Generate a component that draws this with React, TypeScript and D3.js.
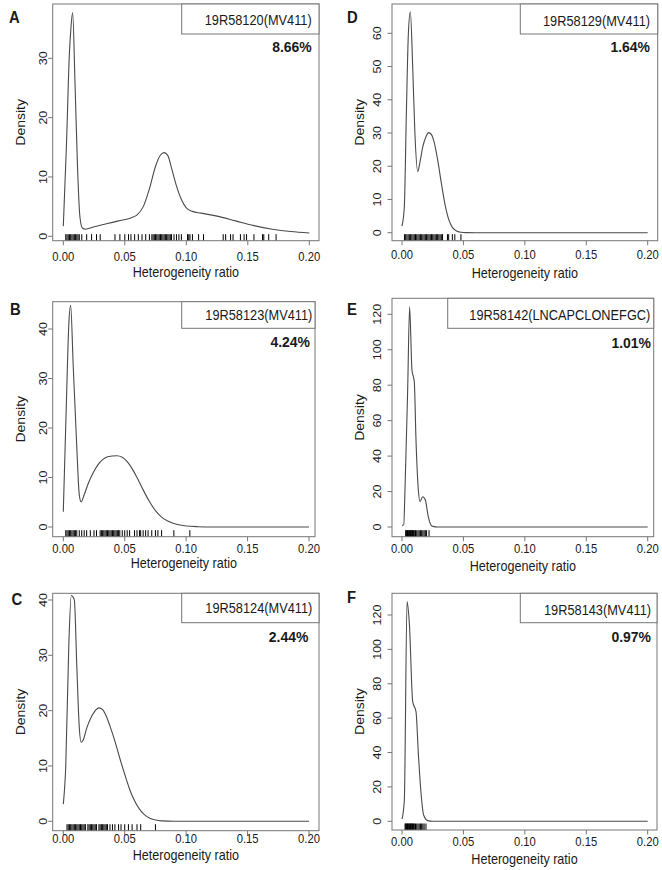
import React from "react";
import * as d3 from "d3";

// ---------- DATA ----------
const xTicks = [0, 0.05, 0.1, 0.15, 0.2];
const xTickLabels = ["0.00", "0.05", "0.10", "0.15", "0.20"];

const panelLetters = ["A", "B", "C", "D", "E", "F"];
const sampleNames = [
  "19R58120(MV411)",
  "19R58123(MV411)",
  "19R58124(MV411)",
  "19R58129(MV411)",
  "19R58142(LNCAPCLONEFGC)",
  "19R58143(MV411)",
];
const percents = ["8.66%", "4.24%", "2.44%", "1.64%", "1.01%", "0.97%"];

const yTicksA = [0, 10, 20, 30];
const yTicksB = [0, 10, 20, 30, 40];
const yTicksC = [0, 10, 20, 30, 40];
const yTicksD = [0, 10, 20, 30, 40, 50, 60];
const yTicksE = [0, 20, 40, 60, 80, 100, 120];
const yTicksF = [0, 20, 40, 60, 80, 100, 120];

// density curves [heterogeneity ratio, density]
const densityA: [number, number][] = [
  [0, 1.7], [0.0025, 15], [0.005, 31], [0.006, 34.5], [0.0076, 37.7], [0.0095, 26],
  [0.0115, 12], [0.0135, 3.3], [0.0155, 1.4], [0.018, 1.2], [0.025, 1.6], [0.035, 2.1],
  [0.045, 2.6], [0.055, 3.1], [0.06, 3.6], [0.065, 5.0], [0.07, 8.0], [0.075, 11.8],
  [0.079, 13.7], [0.082, 14.1], [0.085, 13.6], [0.088, 11.5], [0.092, 8.5], [0.096, 6.2],
  [0.1, 4.8], [0.105, 4.2], [0.112, 3.9], [0.125, 3.4], [0.14, 2.6], [0.155, 1.8],
  [0.17, 1.2], [0.185, 0.8], [0.2, 0.55],
];
const densityB: [number, number][] = [
  [0, 3.1], [0.0025, 25], [0.0046, 41.5], [0.006, 44.8], [0.008, 33], [0.011, 16],
  [0.013, 6.5], [0.0145, 5.1], [0.017, 6.5], [0.02, 8.6], [0.024, 10.8], [0.028, 12.5],
  [0.032, 13.6], [0.036, 14.2], [0.0435, 14.4], [0.048, 14.1], [0.052, 13.2], [0.056, 11.8],
  [0.06, 10.0], [0.065, 7.5], [0.07, 5.2], [0.075, 3.3], [0.08, 2.0], [0.085, 1.2],
  [0.09, 0.7], [0.095, 0.4], [0.1, 0.2], [0.11, 0.06], [0.12, 0.01], [0.2, 0],
];
const densityC: [number, number][] = [
  [0, 3.1], [0.002, 10], [0.0045, 32], [0.0065, 40.8], [0.008, 40.5], [0.009, 40.0],
  [0.011, 28], [0.013, 17], [0.0145, 14.3], [0.016, 14.6], [0.019, 16.8], [0.022, 18.5],
  [0.025, 19.7], [0.029, 20.5], [0.032, 20.2], [0.035, 19.0], [0.038, 17.2], [0.042, 14.5],
  [0.046, 11.4], [0.05, 8.5], [0.054, 5.8], [0.058, 3.7], [0.062, 2.2], [0.066, 1.2],
  [0.07, 0.6], [0.075, 0.25], [0.08, 0.08], [0.09, 0.01], [0.2, 0],
];
const densityD: [number, number][] = [
  [0, 2.0], [0.0019, 7.8], [0.0035, 35], [0.0052, 60], [0.0068, 66.5], [0.0087, 50],
  [0.0105, 30], [0.0128, 18.4], [0.0145, 21], [0.017, 26], [0.0195, 28.9], [0.0217, 30.1],
  [0.024, 29.5], [0.026, 27.5], [0.029, 22], [0.032, 15], [0.035, 8.5], [0.038, 4.0],
  [0.041, 1.6], [0.044, 0.6], [0.048, 0.15], [0.052, 0.03], [0.06, 0], [0.2, 0],
];
const densityE: [number, number][] = [
  [0, 0.9], [0.0014, 1.2], [0.0024, 20], [0.0046, 77], [0.0062, 124.3], [0.0081, 88.6],
  [0.01, 82], [0.0114, 49], [0.0133, 20.9], [0.0147, 14.3], [0.0168, 17.1], [0.019, 15.2],
  [0.0214, 5.8], [0.0236, 1.1], [0.026, 0.2], [0.029, 0], [0.2, 0],
];
const densityF: [number, number][] = [
  [0, 1.2], [0.0019, 12.4], [0.0041, 127.8], [0.006, 115], [0.0087, 69.6], [0.0114, 63.8],
  [0.0133, 39.5], [0.0155, 16.3], [0.0176, 3.7], [0.021, 0.4], [0.025, 0], [0.2, 0],
];

// rug (observed heterogeneity ratios)
const rugA = [
  0.002, 0.003, 0.004, 0.005, 0.006, 0.007, 0.008, 0.009, 0.01, 0.011, 0.012, 0.013, 0.015,
  0.019, 0.023, 0.027, 0.03, 0.042, 0.046, 0.05, 0.053, 0.055, 0.058, 0.061, 0.064, 0.067,
  0.07, 0.072, 0.073, 0.074, 0.075, 0.076, 0.077, 0.078, 0.079, 0.08, 0.081, 0.082, 0.083,
  0.084, 0.085, 0.086, 0.087, 0.088, 0.09, 0.092, 0.094, 0.096, 0.101, 0.102, 0.103, 0.105,
  0.11, 0.114, 0.13, 0.132, 0.136, 0.138, 0.144, 0.147, 0.149, 0.155, 0.162, 0.163, 0.167, 0.173,
];
const rugB = [
  0.002, 0.003, 0.004, 0.005, 0.006, 0.007, 0.008, 0.009, 0.01, 0.011, 0.013, 0.015, 0.017,
  0.019, 0.022, 0.025, 0.027, 0.03, 0.031, 0.032, 0.033, 0.034, 0.035, 0.036, 0.037, 0.038,
  0.039, 0.04, 0.041, 0.042, 0.043, 0.044, 0.045, 0.046, 0.048, 0.05, 0.052, 0.054, 0.058,
  0.06, 0.062, 0.063, 0.065, 0.067, 0.069, 0.072, 0.075, 0.077, 0.08, 0.09, 0.103,
];
const rugC = [
  0.003, 0.004, 0.005, 0.006, 0.007, 0.008, 0.009, 0.01, 0.011, 0.012, 0.013, 0.014, 0.015,
  0.016, 0.017, 0.018, 0.02, 0.021, 0.022, 0.023, 0.024, 0.025, 0.026, 0.027, 0.029, 0.03,
  0.031, 0.032, 0.033, 0.034, 0.035, 0.036, 0.038, 0.04, 0.042, 0.045, 0.047, 0.05, 0.053,
  0.056, 0.06, 0.063, 0.075,
];
const rugD = [
  0.002, 0.003, 0.004, 0.005, 0.006, 0.007, 0.008, 0.009, 0.01, 0.011, 0.012, 0.013, 0.014,
  0.015, 0.016, 0.017, 0.018, 0.019, 0.02, 0.021, 0.022, 0.023, 0.024, 0.025, 0.026, 0.027,
  0.028, 0.029, 0.03, 0.031, 0.032, 0.033, 0.037, 0.038, 0.041, 0.043, 0.048,
];
const rugE = [
  0.003, 0.0035, 0.004, 0.0045, 0.005, 0.0055, 0.006, 0.0065, 0.007, 0.0075, 0.008, 0.0085,
  0.009, 0.0095, 0.01, 0.011, 0.012, 0.013, 0.014, 0.015, 0.016, 0.017, 0.018, 0.019, 0.02, 0.022,
];
const rugF = [
  0.0025, 0.003, 0.0035, 0.004, 0.0045, 0.005, 0.0055, 0.006, 0.0065, 0.007, 0.0075, 0.008,
  0.0085, 0.009, 0.0095, 0.01, 0.011, 0.012, 0.013, 0.014, 0.015, 0.016, 0.017, 0.018, 0.0195,
];

const densities = [densityA, densityB, densityC, densityD, densityE, densityF];
const rugs = [rugA, rugB, rugC, rugD, rugE, rugF];
const yTicksAll = [yTicksA, yTicksB, yTicksC, yTicksD, yTicksE, yTicksF];

// ---------- LAYOUT (pixels) ----------
type Layout = {
  box: [number, number, number, number];
  x0: number; x20: number;
  y0: number; yRefVal: number; yRefPx: number;
  legL: number; legB: number;
  nameY: number; nameR: number; pctY: number; pctR: number;
  letterX: number; letterY: number;
  xLabY: number; xTitleY: number; yLabX: number; yTitleX: number;
};
const layouts: Layout[] = [
  { box: [52.7, 4, 319, 240.7], x0: 63.3, x20: 309.3, y0: 236.3, yRefVal: 30, yRefPx: 58.3,
    legL: 181.7, legB: 34, nameY: 25, nameR: 311.7, pctY: 51.7, pctR: 311.7,
    letterX: 9, letterY: 22.7, xLabY: 261, xTitleY: 277, yLabX: 46.7, yTitleX: 25 },
  { box: [52.7, 301.7, 315, 536.7], x0: 63.3, x20: 309, y0: 527, yRefVal: 40, yRefPx: 329,
    legL: 181.7, legB: 328.3, nameY: 320, nameR: 312.3, pctY: 347.3, pctR: 310,
    letterX: 10, letterY: 315, xLabY: 552.5, xTitleY: 568, yLabX: 46.7, yTitleX: 25 },
  { box: [52.7, 593.3, 319, 830.7], x0: 63.3, x20: 309, y0: 821.3, yRefVal: 40, yRefPx: 600,
    legL: 181.7, legB: 622.7, nameY: 613.3, nameR: 312.3, pctY: 641.7, pctR: 308.3,
    letterX: 11.5, letterY: 605, xLabY: 843, xTitleY: 860, yLabX: 46.7, yTitleX: 25 },
  { box: [392, 4, 657.7, 240.7], x0: 402, x20: 647.7, y0: 232.7, yRefVal: 60, yRefPx: 33.3,
    legL: 520.3, legB: 34, nameY: 26, nameR: 650, pctY: 52.3, pctR: 650,
    letterX: 347, letterY: 22.7, xLabY: 259, xTitleY: 278, yLabX: 381, yTitleX: 364.3 },
  { box: [392, 298.3, 653.7, 536.7], x0: 402, x20: 647.7, y0: 527, yRefVal: 120, yRefPx: 314.3,
    legL: 447.7, legB: 328.3, nameY: 320, nameR: 650.3, pctY: 348.3, pctR: 651,
    letterX: 347, letterY: 315, xLabY: 553, xTitleY: 571, yLabX: 381, yTitleX: 364.3 },
  { box: [392, 593.3, 657, 830], x0: 402, x20: 647.7, y0: 821.3, yRefVal: 120, yRefPx: 615,
    legL: 520.3, legB: 622.7, nameY: 615, nameR: 651, pctY: 641.7, pctR: 651,
    letterX: 347, letterY: 602.7, xLabY: 846, xTitleY: 864, yLabX: 381, yTitleX: 364.3 },
];

const FONT = "'Liberation Sans', Arial, Helvetica, sans-serif";
const HS = 0.9; // horizontal squeeze of text
const TEXT = "#1a1a1a";
const BOX = "#767676";
const CURVE = "#4a4a4a";

function HText(props: {
  x: number; y: number; anchor?: string; size: number; bold?: boolean; children: React.ReactNode; scale?: number;
}) {
  const s = props.scale ?? HS;
  return (
    <text
      transform={`translate(${props.x},${props.y}) scale(${s},1)`}
      textAnchor={props.anchor ?? "start"}
      fontSize={props.size}
      fontWeight={props.bold ? "bold" : "normal"}
      fontFamily={FONT}
      fill={TEXT}
    >
      {props.children}
    </text>
  );
}

function VText(props: { x: number; y: number; size: number; children: React.ReactNode }) {
  return (
    <text
      transform={`translate(${props.x},${props.y}) scale(${HS},1) rotate(-90)`}
      textAnchor="middle"
      fontSize={props.size}
      fontFamily={FONT}
      fill={TEXT}
    >
      {props.children}
    </text>
  );
}

function Panel({ i }: { i: number }) {
  const L = layouts[i];
  const [bl, bt, br, bb] = L.box;
  const x = d3.scaleLinear().domain([0, 0.2]).range([L.x0, L.x20]);
  const y = d3.scaleLinear().domain([0, L.yRefVal]).range([L.y0, L.yRefPx]);
  const line = d3
    .line<[number, number]>()
    .x((d) => x(d[0]))
    .y((d) => y(d[1]))
    .curve(d3.curveMonotoneX);
  const rugLen = 6.5;
  const tickLen = 4.5;
  const yTicks = yTicksAll[i];
  return (
    <g>
      {/* density curve */}
      <path d={line(densities[i]) ?? ""} fill="none" stroke={CURVE} strokeWidth={1.1} />
      {/* rug */}
      {rugs[i].map((v, k) => (
        <line key={k} x1={x(v)} x2={x(v)} y1={bb} y2={bb - rugLen} stroke="#000" strokeWidth={1} />
      ))}
      {/* box */}
      <rect x={bl} y={bt} width={br - bl} height={bb - bt} fill="none" stroke={BOX} strokeWidth={1} />
      {/* x axis */}
      {xTicks.map((t, k) => (
        <g key={k}>
          <line x1={x(t)} x2={x(t)} y1={bb} y2={bb + tickLen} stroke={BOX} strokeWidth={1} />
          <HText x={x(t)} y={L.xLabY} anchor="middle" size={12.5}>
            {xTickLabels[k]}
          </HText>
        </g>
      ))}
      <HText x={(bl + br) / 2} y={L.xTitleY} anchor="middle" size={14}>
        Heterogeneity ratio
      </HText>
      {/* y axis */}
      {yTicks.map((t, k) => (
        <g key={k}>
          <line x1={bl} x2={bl - tickLen} y1={y(t)} y2={y(t)} stroke={BOX} strokeWidth={1} />
          <VText x={L.yLabX} y={y(t)} size={12.5}>
            {String(t)}
          </VText>
        </g>
      ))}
      <VText x={L.yTitleX} y={(bt + bb) / 2} size={14}>
        Density
      </VText>
      {/* legend */}
      <rect x={L.legL} y={bt} width={br - L.legL} height={L.legB - bt} fill="#fff" stroke={BOX} strokeWidth={1} />
      <HText x={L.nameR} y={L.nameY} anchor="end" size={14.2}>
        {sampleNames[i]}
      </HText>
      <HText x={L.pctR} y={L.pctY} anchor="end" size={15.5} bold>
        {percents[i]}
      </HText>
      {/* panel letter */}
      <HText x={L.letterX} y={L.letterY} size={16.5} bold>
        {panelLetters[i]}
      </HText>
    </g>
  );
}

export default function App() {
  return (
    <>
      <style>{"html,body{margin:0;padding:0;background:#fff}"}</style>
      <svg width={662} height={870} viewBox="0 0 662 870" style={{ display: "block" }}>
        <rect x={0} y={0} width={662} height={870} fill="#fff" />
        {layouts.map((_, i) => (
          <Panel key={i} i={i} />
        ))}
      </svg>
    </>
  );
}
